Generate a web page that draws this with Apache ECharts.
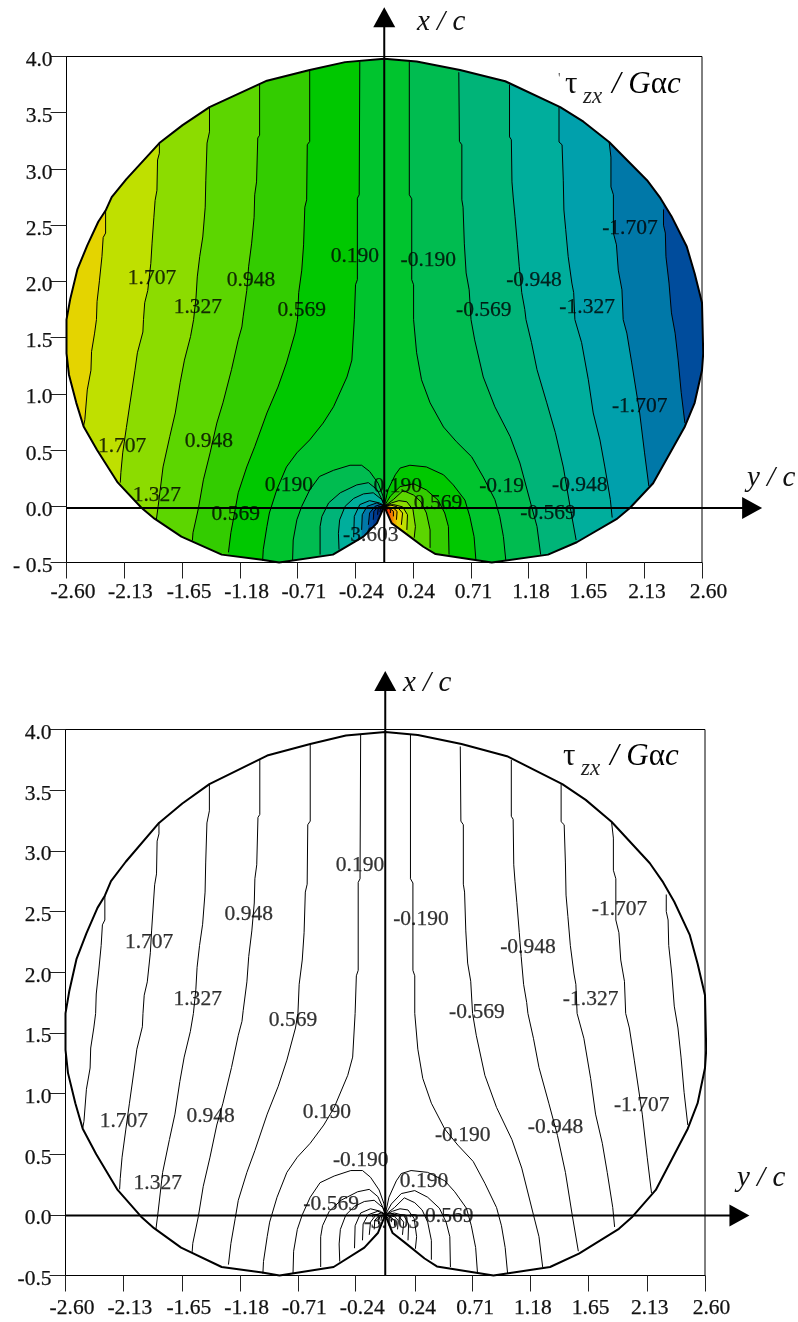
<!DOCTYPE html>
<html><head><meta charset="utf-8">
<style>html,body{margin:0;padding:0;background:#fff}#c{width:798px;height:1322px}</style>
<script src="https://cdn.jsdelivr.net/npm/echarts@6/dist/echarts.min.js"></script>
</head><body><div id="c"></div>
<script>
const xTicks=[-2.6,-2.13,-1.65,-1.18,-0.71,-0.24,0.24,0.71,1.18,1.65,2.13,2.6];
const outline=[[0,3.98],[-0.32,3.95],[-0.61,3.88],[-0.96,3.785],[-1.43,3.55],[-1.65,3.39],[-1.84,3.23],[-2.11,2.91],[-2.23,2.75],[-2.28,2.63],[-2.34,2.53],[-2.43,2.32],[-2.51,2.11],[-2.57,1.84],[-2.6,1.66],[-2.6,1.36],[-2.58,1.17],[-2.52,0.92],[-2.46,0.71],[-2.35,0.5],[-2.18,0.21],[-1.985,-0.015],[-1.88,-0.11],[-1.66,-0.27],[-1.33,-0.43],[-1,-0.475],[-0.86,-0.5],[-0.42,-0.43],[-0.17,-0.27],[-0.06,-0.15],[0,0],[0.06,-0.15],[0.155,-0.225],[0.32,-0.36],[0.42,-0.425],[0.88,-0.5],[1.34,-0.43],[1.575,-0.32],[1.9,-0.115],[2.01,-0.015],[2.2,0.205],[2.46,0.71],[2.54,0.92],[2.6,1.21],[2.61,1.36],[2.6,1.81],[2.54,2.07],[2.475,2.31],[2.35,2.58],[2.26,2.74],[2.15,2.9],[1.84,3.24],[1.63,3.42],[1.44,3.55],[0.99,3.78],[0.62,3.88],[0.265,3.955],[0,3.98]];
const left019=[[-0.2,3.955],[-0.205,2.77],[-0.22,2.74],[-0.22,2.015],[-0.235,1.97],[-0.245,1.66],[-0.265,1.3],[-0.305,1.15],[-0.415,0.885],[-0.5,0.74],[-0.61,0.59],[-0.715,0.475],[-0.8,0.35],[-0.88,0.145],[-0.94,-0.06],[-0.96,-0.18],[-0.99,-0.385],[-0.995,-0.485]];
const left057=[[-0.61,3.88],[-0.61,3.245],[-0.63,3.215],[-0.635,2.725],[-0.65,2.66],[-0.66,2.325],[-0.675,2.1],[-0.7,1.9],[-0.71,1.66],[-0.73,1.54],[-0.8,1.275],[-0.87,1.06],[-0.96,0.83],[-1.06,0.53],[-1.125,0.35],[-1.195,0.12],[-1.22,-0.03],[-1.255,-0.235],[-1.275,-0.41]];
const left095=[[-1.02,3.75],[-1.02,3.3],[-1.035,3.275],[-1.045,2.885],[-1.06,2.77],[-1.065,2.57],[-1.085,2.34],[-1.11,2.13],[-1.125,1.92],[-1.155,1.685],[-1.165,1.595],[-1.195,1.48],[-1.25,1.215],[-1.32,0.92],[-1.37,0.74],[-1.425,0.475],[-1.48,0.235],[-1.52,-0.015],[-1.565,-0.235],[-1.57,-0.305]];
const left133=[[-1.43,3.55],[-1.43,3.33],[-1.45,3.23],[-1.46,2.9],[-1.465,2.66],[-1.485,2.395],[-1.51,2.22],[-1.53,2.04],[-1.54,1.86],[-1.56,1.66],[-1.585,1.51],[-1.635,1.3],[-1.67,1.1],[-1.71,0.83],[-1.755,0.62],[-1.81,0.35],[-1.85,0],[-1.865,-0.12]];
const left171=[[-1.84,3.235],[-1.84,3.14],[-1.855,3.08],[-1.86,2.81],[-1.875,2.72],[-1.885,2.57],[-1.9,2.34],[-1.91,2.16],[-1.935,1.92],[-1.96,1.81],[-1.97,1.66],[-1.975,1.55],[-2.02,1.365],[-2.04,1.21],[-2.08,0.92],[-2.11,0.7],[-2.14,0.475],[-2.155,0.3],[-2.16,0.21]];
const left209=[[-2.28,2.63],[-2.28,2.43],[-2.3,2.39],[-2.31,2.22],[-2.33,2.01],[-2.35,1.82],[-2.355,1.66],[-2.37,1.54],[-2.395,1.375],[-2.4,1.21],[-2.43,1.035],[-2.45,0.77],[-2.46,0.715]];
const right019=[[0.205,3.955],[0.205,2.77],[0.225,2.735],[0.225,2.015],[0.24,1.97],[0.24,1.66],[0.265,1.365],[0.305,1.125],[0.375,0.92],[0.485,0.705],[0.59,0.575],[0.715,0.44],[0.81,0.26],[0.905,0.06],[0.945,-0.09],[0.975,-0.27],[0.995,-0.485]];
const right057=[[0.61,3.86],[0.615,3.245],[0.635,3.215],[0.635,2.725],[0.645,2.66],[0.655,2.34],[0.67,2.075],[0.695,1.925],[0.71,1.66],[0.74,1.48],[0.81,1.15],[0.905,0.885],[1.03,0.62],[1.11,0.385],[1.205,0],[1.25,-0.18],[1.28,-0.43]];
const right095=[[1.025,3.75],[1.025,3.285],[1.04,3.26],[1.045,2.885],[1.055,2.75],[1.07,2.575],[1.09,2.325],[1.105,2.13],[1.125,1.9],[1.15,1.75],[1.16,1.66],[1.205,1.455],[1.25,1.215],[1.33,0.92],[1.4,0.655],[1.465,0.35],[1.52,0],[1.57,-0.3]];
const right133=[[1.43,3.55],[1.43,3.24],[1.455,3.215],[1.465,2.9],[1.47,2.635],[1.485,2.46],[1.505,2.22],[1.535,1.985],[1.55,1.9],[1.56,1.66],[1.615,1.455],[1.67,1.125],[1.71,0.83],[1.765,0.59],[1.805,0.35],[1.85,0.06],[1.865,-0.1]];
const right171=[[1.84,3.24],[1.855,3.105],[1.855,2.84],[1.875,2.77],[1.875,2.43],[1.9,2.325],[1.915,2.1],[1.945,1.925],[1.955,1.66],[1.985,1.54],[2.025,1.275],[2.09,0.83],[2.13,0.475],[2.165,0.18]];
const right209=[[2.285,2.64],[2.285,2.5],[2.3,2.43],[2.305,2.22],[2.33,1.985],[2.35,1.72],[2.38,1.54],[2.405,1.3],[2.43,1.01],[2.46,0.74]];
const archL019=[[-0.75,-0.485],[-0.745,-0.3],[-0.715,-0.12],[-0.675,0],[-0.61,0.145],[-0.53,0.265],[-0.415,0.32],[-0.28,0.365],[-0.185,0.365],[-0.12,0.31],[-0.05,0.205],[-0.01,0.09],[0,0]];
const archL057=[[-0.525,-0.43],[-0.525,-0.18],[-0.51,-0.09],[-0.455,0.03],[-0.36,0.12],[-0.225,0.19],[-0.13,0.21],[-0.06,0.15],[-0.01,0.04],[0,0]];
const archL095=[[-0.37,-0.385],[-0.375,-0.24],[-0.365,-0.12],[-0.32,0],[-0.25,0.07],[-0.17,0.11],[-0.09,0.12],[-0.02,0.06],[0,0]];
const archL133=[[-0.25,-0.275],[-0.245,-0.09],[-0.2,0.015],[-0.12,0.05],[-0.04,0.03],[0,0]];
const archL171=[[-0.185,-0.21],[-0.18,-0.075],[-0.14,0],[-0.06,0.03],[0,0]];
const archL209=[[-0.13,-0.165],[-0.12,-0.06],[-0.075,0],[-0.02,0.02],[0,0]];
const archL247=[[-0.09,-0.12],[-0.085,-0.045],[-0.05,-0.005],[0,0]];
const archL284=[[-0.055,-0.075],[-0.05,-0.025],[-0.02,0],[0,0]];
const archL322=[[-0.035,-0.05],[-0.03,-0.015],[0,0]];
const archL360=[[-0.02,-0.025],[-0.015,-0.01],[0,0]];
const archR019=[[0.75,-0.48],[0.735,-0.27],[0.7,-0.09],[0.66,0.055],[0.565,0.19],[0.485,0.28],[0.345,0.35],[0.21,0.365],[0.13,0.34],[0.09,0.28],[0.03,0.145],[0,0]];
const archR057=[[0.53,-0.43],[0.525,-0.18],[0.495,-0.06],[0.44,0.055],[0.345,0.145],[0.24,0.2],[0.13,0.175],[0.05,0.09],[0,0]];
const archR095=[[0.375,-0.37],[0.375,-0.21],[0.345,-0.06],[0.3,0.04],[0.24,0.1],[0.155,0.14],[0.075,0.06],[0,0]];
const archR133=[[0.245,-0.28],[0.255,-0.18],[0.235,-0.03],[0.185,0.04],[0.12,0.05],[0.06,0.03],[0,0]];
const archR171=[[0.185,-0.21],[0.19,-0.075],[0.15,-0.005],[0.075,0.015],[0,0]];
const archR209=[[0.14,-0.165],[0.15,-0.06],[0.105,-0.005],[0.04,0.015],[0,0]];
const archR247=[[0.1,-0.12],[0.105,-0.045],[0.075,-0.015],[0,0]];
const archR284=[[0.075,-0.09],[0.075,-0.045],[0.035,-0.01],[0,0]];
const archR322=[[0.05,-0.06],[0.05,-0.03],[0.02,-0.005],[0,0]];
const archR360=[[0.025,-0.03],[0.03,-0.02],[0,0]];
const topLabels=[[-1.9,2.03,'1.707'],[-1.09,2.005,'0.948'],[-1.525,1.765,'1.327'],[-0.675,1.745,'0.569'],[-0.24,2.22,'0.190'],[0.36,2.19,'-0.190'],[1.225,2.005,'-0.948'],[0.815,1.745,'-0.569'],[1.66,1.765,'-1.327'],[2.01,2.475,'-1.707'],[-2.145,0.53,'1.707'],[-1.435,0.58,'0.948'],[-1.86,0.1,'1.327'],[-0.78,0.19,'0.190'],[-1.215,-0.075,'0.569'],[0.11,0.175,'0.190'],[0.44,0.03,'0.569'],[-0.11,-0.26,'-3.603'],[0.96,0.175,'-0.19'],[1.6,0.19,'-0.948'],[1.34,-0.065,'-0.569'],[2.09,0.885,'-1.707']];
const bottomLabels=[[-0.205,2.88,'0.190'],[0.29,2.435,'-0.190'],[-1.92,2.245,'1.707'],[-1.11,2.475,'0.948'],[-1.525,1.775,'1.327'],[-0.75,1.6,'0.569'],[0.745,1.67,'-0.569'],[1.16,2.205,'-0.948'],[1.67,1.775,'-1.327'],[1.905,2.515,'-1.707'],[-2.125,0.77,'1.707'],[-1.42,0.81,'0.948'],[-0.475,0.845,'0.190'],[0.63,0.655,'-0.190'],[1.385,0.72,'-0.948'],[2.085,0.9,'-1.707'],[-1.85,0.26,'1.327'],[-0.2,0.45,'-0.190'],[0.315,0.28,'0.190'],[-0.44,0.085,'-0.569'],[0.52,-0.01,'0.569'],[0.05,-0.06,'-3.603']];
const centerColor='#00C42E';
const leftColors=['#00C800','#33CC00','#5CD600','#8CDC00','#BFE000','#E4D400'];
const rightColors=['#00BC50','#00B478','#00AE9C','#00A0AC','#0078A8','#004C9C'];
const archLColors=['#00BC50','#00B478','#00AE9C','#00A0AC','#0078A8','#004C9C','#00388C','#002C80','#001C70','#000060'];
const archRColors=['#00C800','#33CC00','#5CD600','#8CDC00','#BFE000','#E4D400','#F0B000','#F08000','#F84000','#FF0000'];
const leftLines=[left019,left057,left095,left133,left171,left209];
const rightLines=[right019,right057,right095,right133,right171,right209];
const archesL=[archL019,archL057,archL095,archL133,archL171,archL209,archL247,archL284,archL322,archL360];
const archesR=[archR019,archR057,archR095,archR133,archR171,archR209,archR247,archR284,archR322,archR360];

const FONT='"Liberation Serif","Times New Roman",serif';
const allLines=[...leftLines,...rightLines,...archesL,...archesR];
function sidePoly(pts,far){const a=pts[0],b=pts[pts.length-1];return [[a[0],4.6],...pts,[b[0],-0.8],[far,-0.8],[far,4.6]];}
function archPoly(pts){const a=pts[0];return [[a[0],-0.8],...pts,[0,-0.8]];}
const bands=[{poly:outline,color:centerColor}];
leftLines.forEach((p,i)=>bands.push({poly:sidePoly(p,-3.2),color:leftColors[i]}));
rightLines.forEach((p,i)=>bands.push({poly:sidePoly(p,3.2),color:rightColors[i]}));
archesL.forEach((p,i)=>bands.push({poly:archPoly(p),color:archLColors[i]}));
archesR.forEach((p,i)=>bands.push({poly:archPoly(p),color:archRColors[i]}));

function axes(idx,negLabel,xMargin){
  const tick={show:true,length:16,inside:false,lineStyle:{color:'#222',width:1}};
  const line={show:true,lineStyle:{color:'#000',width:1}};
  const txt={fontFamily:FONT,fontSize:21.5,color:'#111',textBorderColor:'#111',textBorderWidth:0.25};
  return {
    x:{type:'value',gridIndex:idx,min:-2.6,max:2.6,splitLine:{show:false},axisLine:{...line,onZero:false},
      axisTick:{...tick,customValues:xTicks},
      axisLabel:{customValues:xTicks,margin:xMargin,...txt,hideOverlap:false,
        formatter:v=>(v<0||v>2.5?'{n|':'{p|')+v.toFixed(2)+'}',
        rich:{n:{...txt,padding:[0,0,0,13]},p:{...txt,padding:[0,0,0,5]}}}},
    y:{type:'value',gridIndex:idx,min:-0.5,max:4,interval:0.5,splitLine:{show:false},axisLine:{...line,onZero:false},
      axisTick:tick,
      axisLabel:{margin:14,...txt,formatter:v=>'{a|'+(v<0?negLabel:v.toFixed(1))+'}',
        rich:{a:{...txt,padding:[8,0,0,0]}}}}
  };
}
const a0=axes(0,'- 0.5',19),a1=axes(1,'-0.5',22);

function lineSeries(idx,pts,width){
  return {type:'line',xAxisIndex:idx,yAxisIndex:idx,data:pts,showSymbol:false,symbol:'none',clip:false,silent:true,animation:false,
    lineStyle:{color:'#000',width:width},z:3};
}
function arrowSeries(idx,from,to,rot){
  return [{type:'custom',xAxisIndex:idx,yAxisIndex:idx,clip:false,silent:true,animation:false,z:6,
    data:[[from[0],from[1],to[0],to[1]]],
    renderItem:function(params,api){
      const a=api.coord([api.value(0),api.value(1)]),b=api.coord([api.value(2),api.value(3)]);
      return {type:'line',shape:{x1:a[0],y1:a[1],x2:b[0],y2:b[1]},style:{stroke:'#000',lineWidth:2}};
    }},
   {type:'scatter',xAxisIndex:idx,yAxisIndex:idx,clip:false,silent:true,animation:false,z:6,
    symbol:'triangle',symbolSize:[22,20],symbolRotate:rot,itemStyle:{color:'#000',opacity:1},data:[to]}];
}
function labelSeries(idx,labels){
  return {type:'scatter',xAxisIndex:idx,yAxisIndex:idx,symbol:'circle',symbolSize:1,itemStyle:{color:'transparent'},z:7,silent:true,animation:false,clip:false,
    data:labels.map(l=>({value:[l[0],l[1]],name:l[2]})),
    label:{show:true,position:'inside',formatter:p=>p.name,color:'#000',fontFamily:FONT,fontSize:21.5,textBorderColor:'#000',textBorderWidth:0.25}};
}
const fillSeries={type:'custom',xAxisIndex:0,yAxisIndex:0,clip:false,silent:true,animation:false,z:1,
  data:bands.map((b,i)=>[i]),encode:{x:0},
  renderItem:function(params,api){
    const b=bands[params.dataIndex];
    const conv=p=>api.coord(p);
    return {type:'polygon',shape:{points:b.poly.map(conv)},style:{fill:b.color,stroke:null},
      clipPath:{type:'polygon',shape:{points:outline.map(conv)}}};
  }};

const series=[fillSeries];
[0,1].forEach(i=>{
  allLines.forEach(p=>series.push(lineSeries(i,p,1)));
  series.push(lineSeries(i,outline,2));
});
series.push(...arrowSeries(0,[-2.6,-0.015],[3.01,-0.015],-90));
series.push(...arrowSeries(0,[0,-0.5],[0,4.35],0));
series.push(...arrowSeries(1,[-2.6,-0.005],[2.88,-0.005],-90));
series.push(...arrowSeries(1,[0,-0.5],[0,4.4],0));
series.push(labelSeries(0,topLabels));
series.push(labelSeries(1,bottomLabels));

function axisText(x,y,text){
  return {type:'text',x:x,y:y,z:10,silent:true,style:{text:text,fill:'#111',font:'italic 29px '+FONT,verticalAlign:'middle'}};
}
const it={fontStyle:'italic',fontFamily:FONT,fontSize:31,color:'#111'};
const up={fontStyle:'normal',fontFamily:FONT,fontSize:31,color:'#111'};
function title(x,y,tick){
  const out=[
    {type:'text',x:x,y:y,z:10,silent:true,style:{text:'τ',fill:'#111',font:'31px '+FONT,verticalAlign:'middle'}},
    {type:'text',x:x+18,y:y+12,z:10,silent:true,style:{text:'zx',fill:'#222',font:'italic 23px '+FONT,verticalAlign:'middle'}},
    {type:'text',x:x+47,y:y,z:10,silent:true,style:{text:'{i|/ G}{u|α}{i|c}',rich:{i:it,u:up},verticalAlign:'middle'}}
  ];
  if(tick)out.push({type:'text',x:x-7,y:y-6,z:10,silent:true,style:{text:"'",fill:'#555',font:'14px '+FONT,verticalAlign:'middle'}});
  return out;
}
const chart=echarts.init(document.getElementById('c'),null,{renderer:'canvas'});
chart.setOption({
  animation:false,backgroundColor:'#fff',
  grid:[
    {left:66.5,top:56.5,width:635.5,height:506,show:true,borderColor:'#000',borderWidth:1,backgroundColor:'transparent'},
    {left:65.5,top:729.5,width:639.5,height:546,show:true,borderColor:'#000',borderWidth:1,backgroundColor:'transparent'}
  ],
  xAxis:[a0.x,a1.x],yAxis:[a0.y,a1.y],series:series,
  graphic:{elements:[
    axisText(417,22,'x / c'),axisText(747,478,'y / c'),
    axisText(403,683,'x / c'),axisText(737,1178,'y / c'),
    ...title(565,85,true),...title(563,757,false)
  ]}
});
</script></body></html>
